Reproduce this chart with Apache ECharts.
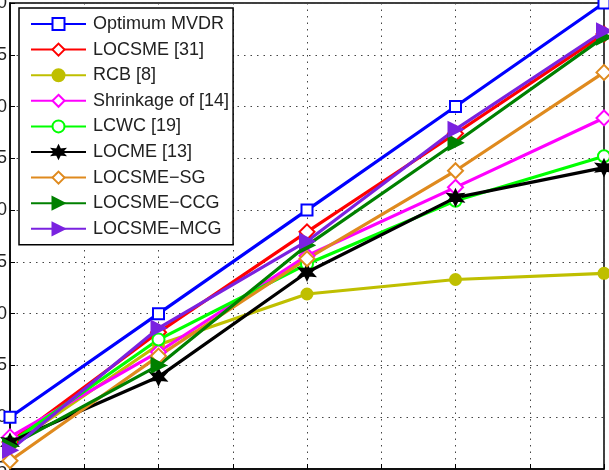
<!DOCTYPE html>
<html>
<head>
<meta charset="utf-8">
<script src="https://cdn.jsdelivr.net/npm/echarts@6/dist/echarts.min.js"></script>
<style>
  html, body { margin: 0; padding: 0; background: #fff; }
  #chart { width: 609px; height: 470px; }
</style>
</head>
<body>
<div id="chart"></div>
<script>
// x positions of the points (axis labels are cut off in the reference)
const xValues = [10, 20, 30, 40, 50]

const optimumMvdr = [10.0, 20.0, 30.0, 40.0, 50.0]
const locsme31 = [7.6, 18.2, 27.9, 37.4, 47.0]
const rcb8 = [7.2, 17.0, 21.9, 23.3, 23.9]
const shrinkage14 = [8.1, 16.3, 25.6, 32.2, 38.9]
const lcwc19 = [7.5, 17.5, 24.8, 30.9, 35.2]
const locme13 = [7.6, 13.9, 24.0, 31.2, 34.1]
const locsmeSg = [5.8, 15.9, 25.3, 33.8, 43.3]
const locsmeCcg = [7.2, 15.0, 26.6, 36.5, 46.7]
const locsmeMcg = [6.8, 18.6, 27.0, 37.8, 47.3]

const seriesNames = ['Optimum MVDR', 'LOCSME [31]', 'RCB [8]', 'Shrinkage of [14]', 'LCWC [19]',
  'LOCME [13]', 'LOCSME\u2212SG', 'LOCSME\u2212CCG', 'LOCSME\u2212MCG']

var chart = echarts.init(document.getElementById('chart'))

const star = 'path://M0,-10 L2.4,-4.2 L8.7,-5 L4.8,0 L8.7,5 L2.4,4.2 L0,10 L-2.4,4.2 L-8.7,5 L-4.8,0 L-8.7,-5 L-2.4,-4.2 Z'

// data, colour, symbol, size, rotate
const styles = [
  [optimumMvdr, '#0000ff', 'emptyRect', 11, 0],
  [locsme31, '#ff0000', 'emptyDiamond', 15, 0],
  [rcb8, '#bfbf00', 'circle', 11, 0],
  [shrinkage14, '#ff00ff', 'emptyDiamond', 15, 0],
  [lcwc19, '#00ff00', 'emptyCircle', 12, 0],
  [locme13, '#000000', star, 15, 0],
  [locsmeSg, '#df8a1e', 'emptyDiamond', 15, 0],
  [locsmeCcg, '#008000', 'triangle', 14, -90],
  [locsmeMcg, '#7a22e0', 'triangle', 14, -90]
]

const series = styles.map((s, i) => {
  return {
    name: seriesNames[i],
    type: 'line',
    data: s[0].map((v, j) => [xValues[j], v]),
    symbol: s[2],
    symbolSize: s[3],
    symbolRotate: s[4],
    showAllSymbol: true,
    lineStyle: { color: s[1], width: 3.2 },
    itemStyle: { color: s[1], borderColor: s[1], borderWidth: 2 },
    emphasis: { disabled: true },
    animation: false
  }
})

const dotted = { type: [1.5, 5], color: '#444', width: 1 }

chart.setOption({
  backgroundColor: '#fff',
  grid: {
    left: 10, right: 5, top: 3, bottom: 1,
    outerBoundsMode: 'none', containLabel: false,
    show: true, borderColor: '#000', borderWidth: 1.5
  },
  legend: {
    orient: 'vertical',
    left: 19,
    top: 8,
    padding: [7, 4, 7, 11],
    itemWidth: 55,
    itemHeight: 15,
    itemGap: 7.6,
    backgroundColor: '#fff',
    borderColor: '#000',
    borderWidth: 1.5,
    borderRadius: 0,
    textStyle: { fontFamily: 'Liberation Sans', fontSize: 18, color: '#222', padding: [0, 0, 0, 2] },
    data: seriesNames
  },
  xAxis: {
    type: 'value',
    min: 10,
    max: 50,
    interval: 5,
    axisLine: { show: true, lineStyle: { color: '#000', width: 1.5 } },
    axisTick: { inside: true, length: 5, lineStyle: { color: '#000' } },
    axisLabel: { show: false },
    splitLine: { show: true, lineStyle: dotted }
  },
  yAxis: {
    type: 'value',
    min: 5,
    max: 50,
    interval: 5,
    axisLine: { show: true, lineStyle: { color: '#000', width: 1.5 } },
    axisTick: { show: true, inside: true, length: 5, lineStyle: { color: '#000' } },
    axisLabel: { margin: 3, fontFamily: 'Liberation Sans', fontSize: 18, color: '#222' },
    splitLine: { show: true, lineStyle: dotted }
  },
  series
})
</script>
</body>
</html>
